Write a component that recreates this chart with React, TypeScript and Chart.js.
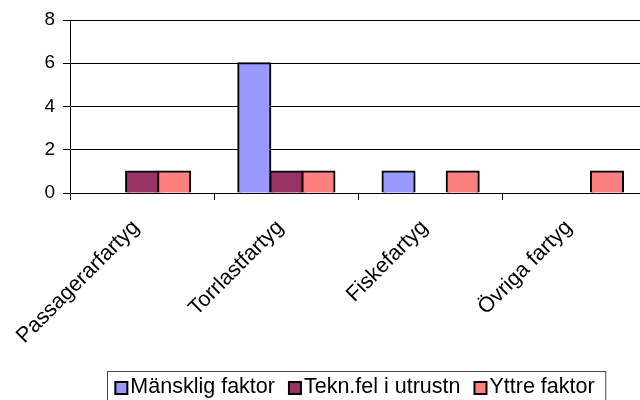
import React, { useEffect, useRef } from "react";
import { Chart, registerables } from "chart.js";

Chart.register(...registerables);

const categories = ["Passagerarfartyg", "Torrlastfartyg", "Fiskefartyg", "Övriga fartyg"];
const seriesNames = ["Mänsklig faktor", "Tekn.fel i utrustn", "Yttre faktor"];
const manskligFaktor = [0, 6, 1, 0];
const teknFel = [1, 1, 0, 0];
const yttreFaktor = [1, 1, 1, 1];
const seriesColors = ["#9999FF", "#993366", "#FF8080"];
const yTicks = { min: 0, max: 8, step: 2 };

const FONT = "Arial, 'Liberation Sans', sans-serif";

const boxLegend = {
  id: "boxLegend",
  afterDraw(chart: any) {
    const ctx = chart.ctx;
    const area = chart.chartArea;
    const ds = chart.data.datasets;
    ctx.save();
    ctx.font = `21.5px ${FONT}`;
    const marker = 13;
    const textGap = 3;
    const itemGap = 13;
    const widths = ds.map((d: any) => marker + textGap + ctx.measureText(d.label).width);
    const total = widths.reduce((a: number, b: number) => a + b, 0) + itemGap * (ds.length - 1);
    const cx = (area.left + area.right) / 2 - 4;
    let x = cx - total / 2;
    const top = 371;
    const left = x - 7;
    const right = x + total + 11;
    ctx.strokeStyle = "#444";
    ctx.lineWidth = 1;
    ctx.strokeRect(Math.round(left) + 0.5, top + 0.5, right - left, 40);
    ds.forEach((d: any, i: number) => {
      ctx.fillStyle = d.backgroundColor;
      ctx.fillRect(x + 1, 382, marker - 1, 12);
      ctx.strokeStyle = "#000";
      ctx.lineWidth = 2;
      ctx.strokeRect(x + 1, 382, marker - 1, 12);
      ctx.fillStyle = "#000";
      ctx.textBaseline = "alphabetic";
      ctx.textAlign = "left";
      ctx.fillText(d.label, x + marker + textGap, 393);
      x += widths[i] + itemGap;
    });
    ctx.restore();
  },
};

export default function App() {
  const ref = useRef<HTMLCanvasElement | null>(null);
  useEffect(() => {
    document.body.style.margin = "0";
    document.body.style.overflow = "hidden";
    const values = [manskligFaktor, teknFel, yttreFaktor];
    const chart = new Chart(ref.current as HTMLCanvasElement, {
      type: "bar",
      data: {
        labels: categories,
        datasets: seriesNames.map((name, i) => ({
          label: name,
          data: values[i].map((v) => (v === 0 ? null : v)),
          backgroundColor: seriesColors[i],
          borderColor: "#000",
          borderWidth: 2,
          inflateAmount: 1,
          categoryPercentage: 0.667,
          barPercentage: 1,
        })),
      },
      options: {
        responsive: false,
        animation: false,
        devicePixelRatio: 1,
        layout: { padding: { top: 20, right: 13, bottom: 60, left: 0 } },
        plugins: { legend: { display: false }, tooltip: { enabled: false } },
        scales: {
          x: {
            grid: { drawOnChartArea: false, color: "#000", tickLength: 7, offset: true },
            border: { color: "#000", width: 1 },
            ticks: {
              color: "#000",
              font: { family: FONT, size: 21.5 },
              maxRotation: 45,
              minRotation: 45,
              padding: 15,
              labelOffset: -6,
              autoSkip: false,
            },
            afterFit: (s: any) => {
              s.height = 167;
            },
          },
          y: {
            min: yTicks.min,
            max: yTicks.max,
            grid: { color: "#000", tickLength: 7, lineWidth: 1 },
            border: { color: "#000", width: 1 },
            ticks: {
              stepSize: yTicks.step,
              color: "#000",
              font: { family: FONT, size: 19 },
              padding: 8,
            },
            afterFit: (s: any) => {
              s.width = 70;
            },
          },
        },
      },
      plugins: [boxLegend],
    });
    return () => chart.destroy();
  }, []);
  return (
    <div style={{ position: "fixed", left: 0, top: 0, width: 640, height: 400, overflow: "hidden", background: "#fff" }}>
      <canvas ref={ref} width={660} height={420} style={{ display: "block" }} />
    </div>
  );
}
